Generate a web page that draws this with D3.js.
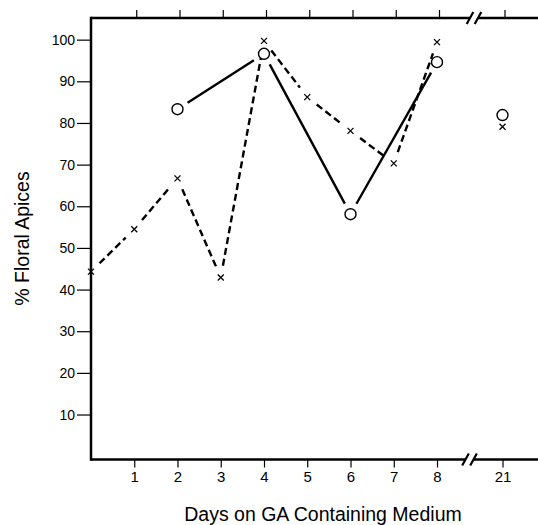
<!DOCTYPE html>
<html>
<head>
<meta charset="utf-8">
<script src="https://cdn.jsdelivr.net/npm/d3@7"></script>
<style>
  html, body { margin: 0; padding: 0; background: #fff; }
  svg { display: block; font-family: "Liberation Sans", Arial, sans-serif; }
</style>
</head>
<body>
<svg id="chart" width="538" height="525"></svg>
<script>
// ---- data ----
const dayTicks = [1, 2, 3, 4, 5, 6, 7, 8, 21];
const pctTicks = [10, 20, 30, 40, 50, 60, 70, 80, 90, 100];
const crossDays = [0, 1, 2, 3, 4, 5, 6, 7, 8, 21];
const crossVals = [44.3, 54.5, 66.7, 42.9, 99.7, 86.2, 78.1, 70.3, 99.4, 79.1];
const circleDays = [2, 4, 6, 8, 21];
const circleVals = [83.3, 96.6, 58.1, 94.6, 81.9];
const lastConnectedDay = 8;

(function () {
const svg = d3.select("#chart");
const pLeft = 91, pRight = 538, pTop = 18, pBottom = 459.5;

const x = d3.scaleLinear().domain([0, 8, 21]).range([91, 437, 502.5]);
const y = d3.scaleLinear().domain([-0.8, 105.2]).range([pBottom, pTop]);

// ---- lines (with gaps around markers) ----
function segments(days, vals, gap) {
  const pts = days.map((d, i) => [x(d), y(vals[i]), d]).filter(p => p[2] <= lastConnectedDay);
  const segs = [];
  for (let i = 0; i < pts.length - 1; i++) {
    const [x1, y1] = pts[i], [x2, y2] = pts[i + 1];
    const dx = x2 - x1, dy = y2 - y1, L = Math.hypot(dx, dy);
    const ux = dx / L, uy = dy / L;
    segs.push([x1 + ux * gap, y1 + uy * gap, x2 - ux * gap, y2 - uy * gap]);
  }
  return segs;
}

svg.append("g").selectAll("line")
  .data(segments(crossDays, crossVals, 12))
  .join("line")
  .attr("x1", d => d[0]).attr("y1", d => d[1])
  .attr("x2", d => d[2]).attr("y2", d => d[3])
  .attr("stroke", "#000").attr("stroke-width", 2.4)
  .attr("stroke-dasharray", "7,4");

svg.append("g").selectAll("line")
  .data(segments(circleDays, circleVals, 12))
  .join("line")
  .attr("x1", d => d[0]).attr("y1", d => d[1])
  .attr("x2", d => d[2]).attr("y2", d => d[3])
  .attr("stroke", "#000").attr("stroke-width", 2.4);

// ---- axes ----
const axisG = svg.append("g");
const xBottom = d3.axisBottom(x).tickValues(dayTicks).tickSize(8).tickPadding(4);
const gb = axisG.append("g").attr("transform", `translate(0,${pBottom})`).call(xBottom);
gb.select(".domain").remove();
gb.selectAll("line").attr("stroke", "#000").attr("stroke-width", 1.2);
gb.selectAll("text").attr("font-size", 15).attr("fill", "#000")
  .attr("font-family", "Liberation Sans, Arial, sans-serif");

const xTop = d3.axisTop(x).tickValues(dayTicks).tickSize(8).tickFormat("");
const gt = axisG.append("g").attr("transform", `translate(2,${pTop})`).call(xTop);
gt.select(".domain").remove();
gt.selectAll("line").attr("stroke", "#000").attr("stroke-width", 1.2);

const yLeft = d3.axisLeft(y).tickValues(pctTicks).tickSize(14).tickPadding(2);
const gl = axisG.append("g").attr("transform", `translate(${pLeft},0)`).call(yLeft);
gl.select(".domain").remove();
gl.selectAll("line").attr("stroke", "#000").attr("stroke-width", 1.2);
gl.selectAll("text").attr("font-size", 14).attr("fill", "#000")
  .attr("font-family", "Liberation Sans, Arial, sans-serif");

// frame lines (open on the right)
axisG.append("line").attr("x1", pLeft).attr("x2", pLeft).attr("y1", pTop - 1.2).attr("y2", pBottom + 1.2)
  .attr("stroke", "#000").attr("stroke-width", 2.5);
axisG.append("line").attr("x1", pLeft).attr("x2", pRight).attr("y1", pBottom).attr("y2", pBottom)
  .attr("stroke", "#000").attr("stroke-width", 2.5);
axisG.append("line").attr("x1", pLeft).attr("x2", pRight).attr("y1", pTop).attr("y2", pTop)
  .attr("stroke", "#000").attr("stroke-width", 2.5);

// axis breaks "//"
function brk(cx, cy) {
  const g = axisG.append("g");
  g.append("rect").attr("x", cx - 4).attr("y", cy - 3).attr("width", 8).attr("height", 6).attr("fill", "#fff");
  [-4, 4].forEach(o => {
    g.append("line").attr("x1", cx + o - 3.3).attr("y1", cy + 6)
      .attr("x2", cx + o + 3.3).attr("y2", cy - 6)
      .attr("stroke", "#000").attr("stroke-width", 2.2);
  });
}
brk(x(8) + 32.5, pBottom);
brk(x(8) + 37, pTop);

// ---- markers ----
svg.append("g").selectAll("path")
  .data(crossDays.map((d, i) => [d, crossVals[i]]))
  .join("path")
  .attr("d", d => {
    const cx = x(d[0]), cy = y(d[1]), s = 3;
    return `M${cx - s},${cy - s}L${cx + s},${cy + s}M${cx - s},${cy + s}L${cx + s},${cy - s}`;
  })
  .attr("stroke", "#000").attr("stroke-width", 1.3).attr("fill", "none");

svg.append("g").selectAll("circle")
  .data(circleDays.map((d, i) => [d, circleVals[i]]))
  .join("circle")
  .attr("cx", d => x(d[0])).attr("cy", d => y(d[1]))
  .attr("r", 5.5).attr("fill", "#fff").attr("stroke", "#000").attr("stroke-width", 1.4);

// ---- titles ----
svg.append("text").attr("x", (184 + 462) / 2).attr("y", 520.5)
  .attr("text-anchor", "middle").attr("font-size", 19.5).attr("fill", "#000")
  .text("Days on GA Containing Medium");

svg.append("text").attr("transform", "translate(29,238.5) rotate(-90)")
  .attr("text-anchor", "middle").attr("font-size", 19.5).attr("fill", "#000")
  .text("% Floral Apices");
})();
</script>
</body>
</html>
